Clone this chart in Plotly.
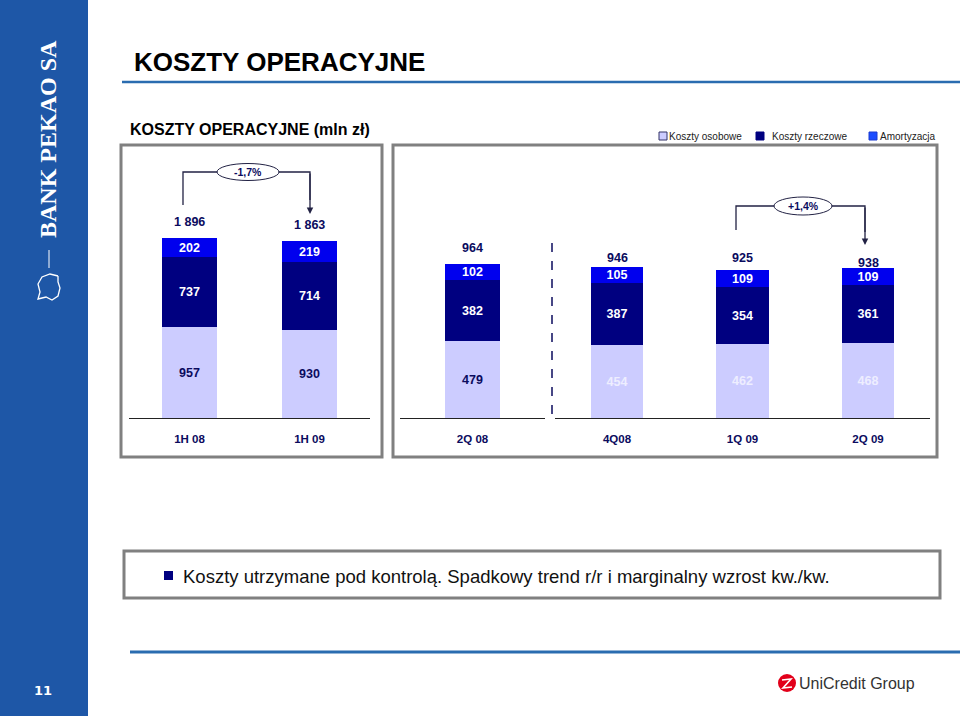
import plotly.graph_objects as go

W, H = 960, 716


def px(x):
    return x / W


def py(y):
    return 1 - y / H


# ---------------- data ----------------
series_names = ["Koszty osobowe", "Koszty rzeczowe", "Amortyzacja"]

half_cats = ["1H 08", "1H 09"]
half_osobowe = [957, 930]
half_rzeczowe = [737, 714]
half_amort = [202, 219]
half_total = [1896, 1863]

qprev_cats = ["2Q 08"]
qprev_osobowe = [479]
qprev_rzeczowe = [382]
qprev_amort = [102]
qprev_total = [964]

q_cats = ["4Q08", "1Q 09", "2Q 09"]
q_osobowe = [454, 462, 468]
q_rzeczowe = [387, 354, 361]
q_amort = [105, 109, 109]
q_total = [946, 925, 938]

# ---------------- style ----------------
FONT = "Liberation Sans, Arial, sans-serif"
LIGHT = "#CCCCFF"
DARK = "#000080"
BLUE = "#0000EE"
NAVY = "#0b0b5e"
GRAY = "#808080"
LINEBLUE = "#2a6cb0"
SIDEBLUE = "#1e57a7"

# pixel lift of the total labels above each bar (style only)
half_lift = [16, 16]
qprev_lift = [16]
q_lift = [9, 12, 5]


def fmt_total(v):
    return f"{v:,}".replace(",", " ")


fig = go.Figure()
annotations = []


def add_stack(cats, osob, rzecz, amort, total, xa, ya, width, light_txt, lift):
    n = len(cats)
    for name, vals, color, tcol in [
        (series_names[0], osob, LIGHT, light_txt),
        (series_names[1], rzecz, DARK, ["white"] * n),
        (series_names[2], amort, BLUE, ["white"] * n),
    ]:
        fig.add_trace(go.Bar(
            x=cats, y=vals, name=name, width=width,
            marker=dict(color=color, line=dict(width=0)),
            text=[str(v) for v in vals], textposition="inside",
            insidetextanchor="middle", textangle=0,
            textfont=dict(color=tcol, size=12.5, family=FONT, weight="bold"),
            xaxis=xa, yaxis=ya, showlegend=False, legendgroup=name,
        ))
    for c, t, l in zip(cats, total, lift):
        annotations.append(dict(
            x=c, y=t, xref=xa, yref=ya, text=fmt_total(t), showarrow=False,
            yanchor="middle", yshift=l,
            font=dict(color=NAVY, size=12.5, family=FONT, weight="bold"),
        ))


add_stack(half_cats, half_osobowe, half_rzeczowe, half_amort, half_total,
          "x", "y", 0.458, [NAVY, NAVY], half_lift)
add_stack(qprev_cats, qprev_osobowe, qprev_rzeczowe, qprev_amort, qprev_total,
          "x2", "y2", 0.379, [NAVY], qprev_lift)
add_stack(q_cats, q_osobowe, q_rzeczowe, q_amort, q_total,
          "x3", "y2", 0.42, ["#eeeeff"] * 3, q_lift)

ax_common = dict(
    type="category", showgrid=False, zeroline=False, showline=True,
    linecolor="#222222", linewidth=1, ticks="outside", ticklen=10,
    tickcolor="rgba(0,0,0,0)", fixedrange=True,
    tickfont=dict(family=FONT, size=11.5, color=NAVY, weight="bold"),
)
y_common = dict(domain=[py(418), py(160)], visible=False, fixedrange=True)

fig.update_layout(
    width=W, height=H, margin=dict(l=0, r=0, t=0, b=0),
    paper_bgcolor="white", plot_bgcolor="rgba(0,0,0,0)",
    barmode="stack", showlegend=False,
    uniformtext=dict(minsize=12.5, mode="show"),
    font=dict(family=FONT),
    xaxis=dict(domain=[px(129), px(370)], range=[-0.504, 1.504], anchor="y", **ax_common),
    xaxis2=dict(domain=[px(400), px(545)], range=[-0.5, 0.5], anchor="y2", **ax_common),
    xaxis3=dict(domain=[px(555), px(930)], range=[-0.494, 2.494], anchor="y2", **ax_common),
    yaxis=dict(range=[0, 2719], **y_common),
    yaxis2=dict(range=[0, 1612], anchor="x2", **y_common),
)

shapes = []


def rect(x0, y0, x1, y1, fill=None, line_color=None, lw=0, layer="above"):
    shapes.append(dict(
        type="rect", xref="paper", yref="paper",
        x0=px(x0), x1=px(x1), y0=py(y1), y1=py(y0),
        fillcolor=fill if fill else "rgba(0,0,0,0)",
        line=dict(color=line_color if line_color else "rgba(0,0,0,0)", width=lw),
        layer=layer,
    ))


def line(x0, y0, x1, y1, color, lw, dash="solid"):
    shapes.append(dict(
        type="line", xref="paper", yref="paper",
        x0=px(x0), x1=px(x1), y0=py(y0), y1=py(y1),
        line=dict(color=color, width=lw, dash=dash),
    ))


def path(points, color, lw):
    d = "M " + " L ".join(f"{px(x):.5f},{py(y):.5f}" for x, y in points)
    shapes.append(dict(type="path", xref="paper", yref="paper", path=d,
                       line=dict(color=color, width=lw)))


def ellipse(cx, cy, w, h, color):
    shapes.append(dict(type="circle", xref="paper", yref="paper",
                       x0=px(cx - w / 2), x1=px(cx + w / 2),
                       y0=py(cy + h / 2), y1=py(cy - h / 2),
                       fillcolor="white", line=dict(color=color, width=1)))


# sidebar
rect(0, 0, 88, 716, fill=SIDEBLUE, layer="below")
line(49, 250, 49, 268, "white", 1)
# simplified outline of the bank's emblem
path([(58, 276), (50, 274), (42, 277), (38, 284), (40, 292), (38, 299),
      (46, 297), (52, 300), (58, 296), (60, 288), (58, 282), (58, 276)],
     "white", 1.3)

# panels
rect(121, 145, 382, 457, line_color=GRAY, lw=3)
rect(393, 145, 937, 457, line_color=GRAY, lw=3)
rect(124, 551, 940, 598, line_color=GRAY, lw=3)

# title underline and footer line
line(122, 82, 960, 82, LINEBLUE, 2.5)
line(130, 652, 960, 652, LINEBLUE, 3)

# dashed separator
line(552, 243, 552, 422, NAVY, 1.5, dash="dash")

# brackets
path([(183, 205), (183, 172), (310, 172), (310, 200)], "#222244", 1.3)
ellipse(248, 172, 62, 17, "#222244")
path([(736, 230), (736, 206), (865, 206), (865, 232)], "#222244", 1.3)
ellipse(803, 206, 58, 18, "#222244")

# legend swatches
rect(659, 132, 667, 140, fill=LIGHT, line_color="#333366", lw=1)
rect(756, 132, 764, 140, fill=DARK, line_color=DARK, lw=1)
rect(869, 132, 877, 140, fill="#1a4cff", line_color="#1a3ad0", lw=1)

# bullet
rect(164, 571, 173, 580, fill=DARK)

# UniCredit logo mark
shapes.append(dict(type="circle", xref="paper", yref="paper",
                   x0=px(778), x1=px(796), y0=py(692), y1=py(674),
                   fillcolor="#e2001a", line=dict(width=0)))
path([(782, 680), (791, 679), (783, 688), (792, 687)], "white", 1.6)

fig.update_layout(shapes=shapes)

left_pct = (half_total[1] / half_total[0] - 1) * 100
right_pct = (q_total[2] / q_total[1] - 1) * 100


def pct_text(v):
    return f"{v:+.1f}%".replace(".", ",")


def text(x, y, s, size, color="#000000", bold=False, xanchor="center",
         family=FONT, angle=0):
    annotations.append(dict(
        x=px(x), y=py(y), xref="paper", yref="paper", text=s, showarrow=False,
        xanchor=xanchor, yanchor="middle", textangle=angle,
        font=dict(size=size, color=color, family=family,
                  weight="bold" if bold else "normal"),
    ))


text(132, 62, "KOSZTY OPERACYJNE", 26, "#000000", True, "left")
text(128, 129, "KOSZTY OPERACYJNE (mln zł)", 16, "#000000", True, "left")

text(667, 136, series_names[0], 10, "#222222", False, "left")
text(770, 136, series_names[1], 10, "#222222", False, "left")
text(878, 136, series_names[2], 10, "#222222", False, "left")

text(248, 172, pct_text(left_pct), 10.5, NAVY, True)
text(803, 206, pct_text(right_pct), 10.5, NAVY, True)

text(181, 576,
     "Koszty utrzymane pod kontrolą. Spadkowy trend r/r i marginalny wzrost kw./kw.",
     18.5, "#111111", False, "left")

text(48, 139, "BANK PEKAO SA", 24, "white", True,
     family="Liberation Serif, DejaVu Serif, serif", angle=-90)
text(43, 690, "11", 13, "white", True, family="DejaVu Sans, Verdana, sans-serif")
text(797, 683, "UniCredit Group", 16, "#333333", False, "left")

# arrows
for hx, hy, tail in [(310, 214, 42), (865, 245, 39)]:
    annotations.append(dict(
        x=px(hx), y=py(hy), xref="paper", yref="paper", text="",
        showarrow=True, ax=0, ay=-tail, arrowhead=2, arrowsize=1,
        arrowwidth=1.3, arrowcolor="#222244", standoff=0,
    ))

fig.update_layout(annotations=annotations)

fig.write_html(
    "out.html",
    config={"displayModeBar": False},
    post_script="document.body.style.margin='0';document.body.style.overflow='hidden';",
)
